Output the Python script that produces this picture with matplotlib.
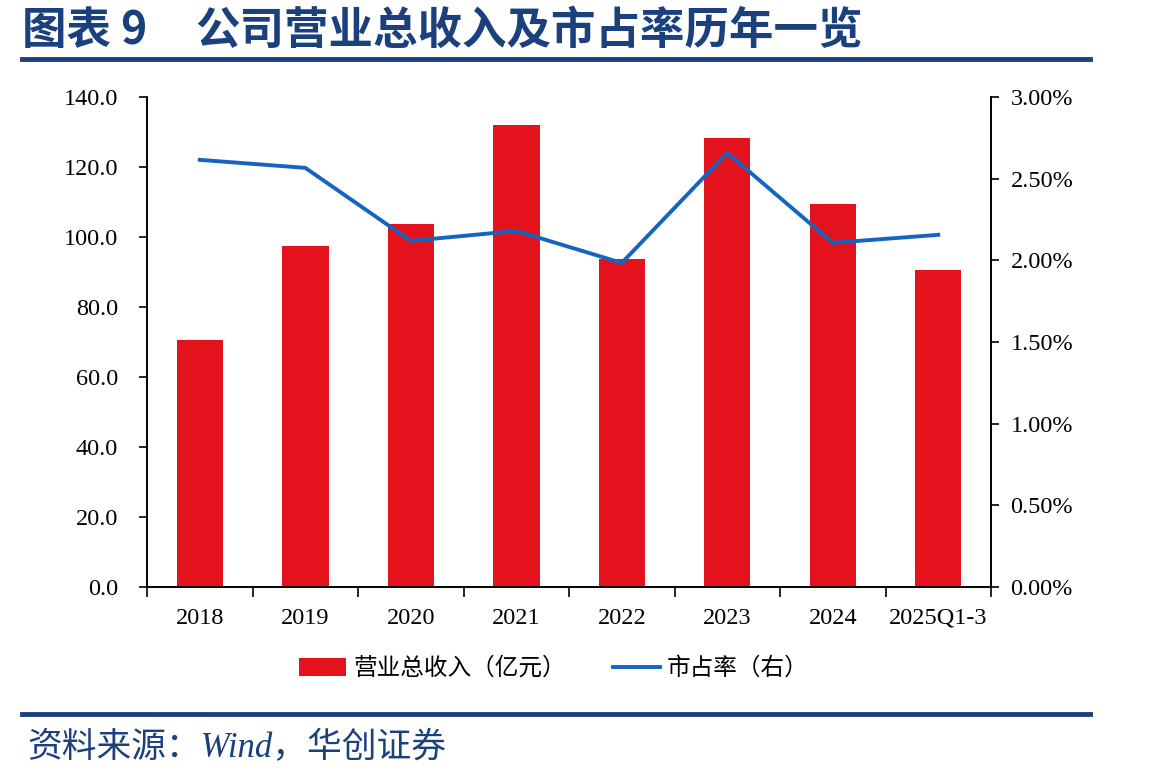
import numpy as np
import matplotlib.pyplot as plt
from matplotlib.ticker import FuncFormatter, FixedLocator

# data
years = ["2018", "2019", "2020", "2021", "2022", "2023", "2024", "2025Q1-3"]
revenue = [70.6, 97.4, 103.7, 132.0, 93.7, 128.3, 109.4, 90.6]      # 亿元
share = [2.615, 2.566, 2.119, 2.180, 1.984, 2.658, 2.107, 2.156]     # %

RED = "#E3121C"
BLUE = "#1565C0"
NAVY = "#1B407E"
SERIF = ["Liberation Serif", "Noto Sans CJK SC"]
CJK = ["Noto Sans CJK SC", "DejaVu Sans"]

fig = plt.figure(figsize=(11.49, 7.82), dpi=100)
ax = fig.add_axes([0.128, 0.2494, 0.7345, 0.6266])
ax2 = ax.twinx()

x = np.arange(len(years))
bars = ax.bar(x, revenue, width=0.44, color=RED, label="营业总收入（亿元）", zorder=2)
line, = ax2.plot(x, share, color=BLUE, lw=2.8, label="市占率（右）", zorder=3)

ax.set_xlim(-0.5, len(years) - 0.5)
ax.set_ylim(0, 140)
ax.set_yticks(np.arange(0, 141, 20))
ax.yaxis.set_major_formatter(FuncFormatter(lambda v, p: f"{v:.1f}"))
ax2.set_ylim(0, 3.0)
ax2.set_yticks(np.arange(0, 3.01, 0.5))
ax2.yaxis.set_major_formatter(FuncFormatter(lambda v, p: f"{v:.2f}%"))

# category labels centred, tick marks at the boundaries
ax.set_xticks(x)
ax.set_xticklabels(years)
ax.tick_params(axis="x", which="major", length=0, pad=15)
ax.xaxis.set_minor_locator(FixedLocator(np.arange(-0.5, len(years), 1.0)))
ax.tick_params(axis="x", which="minor", length=7, width=1.2, color="black")

ax.tick_params(axis="y", length=6, width=1.2, direction="out", pad=15)
ax2.tick_params(axis="y", length=6, width=1.2, direction="out", pad=8)

for a in (ax, ax2):
    a.spines["top"].set_visible(False)
    for s in ("left", "right", "bottom"):
        a.spines[s].set_linewidth(1.2)
    for lab in a.get_xticklabels() + a.get_yticklabels():
        lab.set_family(SERIF)
        lab.set_fontsize(17.5)

# legend below the plot
fig.legend(handles=[bars, line], loc="center", bbox_to_anchor=(0.482, 0.145),
           ncol=2, frameon=False, prop={"family": CJK, "size": 17},
           handlelength=2.0, handleheight=0.75, handletextpad=0.3, columnspacing=2.0)

# title and source, framed by navy rules
fig.text(0.019, 0.960, "图表 9", color=NAVY,
         fontsize=32, fontweight="bold", family=CJK, va="center", ha="left")
fig.text(0.170, 0.960, "公司营业总收入及市占率历年一览", color=NAVY,
         fontsize=32, fontweight="bold", family=CJK, va="center", ha="left")
fig.add_artist(plt.Line2D([0.019, 0.949], [0.924, 0.924], color=NAVY, lw=3.5))
fig.add_artist(plt.Line2D([0.019, 0.949], [0.087, 0.087], color=NAVY, lw=3.5))
fig.text(0.024, 0.043, "资料来源：Wind，华创证券", color=NAVY, fontsize=25,
         style="italic", family=SERIF, va="center", ha="left")

fig.savefig("out.png", dpi=100)
